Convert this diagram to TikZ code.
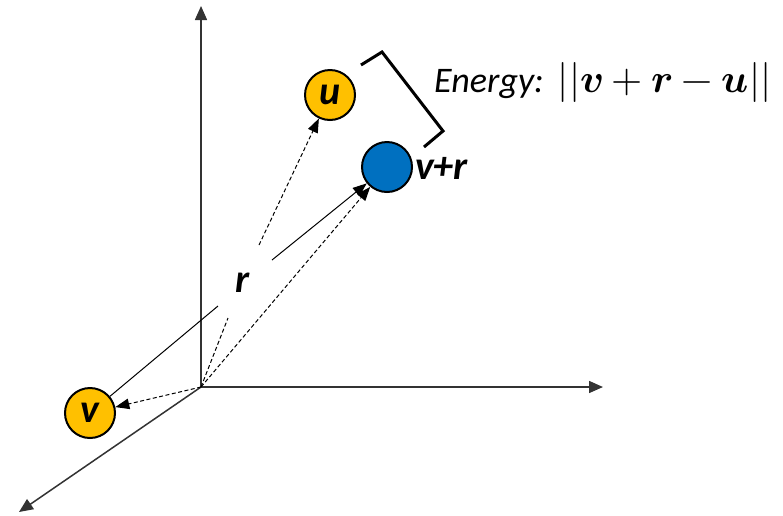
\documentclass[tikz,border=0pt]{standalone}
\usepackage{amsmath}
\usepackage{unicode-math}
\setmainfont{Carlito}
\setmathfont{Latin Modern Math}
\usetikzlibrary{arrows.meta}
\definecolor{ent}{HTML}{FFC000}
\definecolor{rel}{HTML}{0070C0}
\begin{document}
\begin{tikzpicture}[x=1pt,y=-1pt,
  axis/.style={line width=1.5pt,draw=black!80,-{Triangle[length=14pt,width=12pt]}},
  entity/.style={circle,draw=black,line width=2pt,fill=ent,minimum size=50pt,inner sep=0pt,font=\fontsize{40}{42}\selectfont\bfseries\itshape},
  relnode/.style={circle,draw=black,line width=2pt,fill=rel,minimum size=50pt,inner sep=0pt},
  lbl/.style={font=\fontsize{40}{42}\selectfont\bfseries\itshape,inner sep=0pt},
  vec/.style={line width=1pt,-{Triangle[length=14pt,width=10.5pt]}},
  dvec/.style={line width=1pt,dash pattern=on 4pt off 2.5pt,-{Triangle[length=14pt,width=10.5pt]}},
  brace/.style={line width=3pt,line join=miter}]
\useasboundingbox (0,0) rectangle (783,515);
\coordinate (o) at (201,387);
\coordinate (ytip) at (201,6);
\coordinate (xtip) at (603,387);
\coordinate (ztip) at (19,512);
\draw[axis] (o) -- (ytip);
\draw[axis] (o) -- (xtip);
\draw[axis] (o) -- (ztip);
\node[entity] (v) at (90,413) {v};
\node[entity] (u) at (330,95) {u};
\node[relnode] (vr) at (387,167) {};
\node[lbl,anchor=west] (vrl) at (415,168) {v+r};
\node[lbl] (rl) at (243,283) {r};
% solid r vector broken around label
\coordinate (s1) at (218,306);
\coordinate (s2) at (272,260);
\draw[line width=1pt] (s1) -- (v);
\draw[vec] (s2) -- (vr);
% dashed vectors
\draw[dvec] (o) -- (v);
\draw[dvec] (o) -- (vr);
\coordinate (d1) at (228,318);
\coordinate (d2) at (259,245);
\draw[line width=1pt,dash pattern=on 4pt off 2.5pt] (o) -- (d1);
\draw[dvec] (d2) -- (u);
% bracket
\coordinate (b1) at (361,65);
\coordinate (b2) at (382,52);
\coordinate (b3) at (443,131);
\coordinate (b4) at (424,147);
\draw[brace] (b1) -- (b2) -- (b3) -- (b4);
\node[anchor=base west,inner sep=0pt] (en) at (434,92) {\fontsize{36}{40}\selectfont\itshape Energy:\ \,\fontsize{40}{44}\selectfont$||\symbfit{v}+\symbfit{r}-\symbfit{u}||$};
\end{tikzpicture}
\end{document}
